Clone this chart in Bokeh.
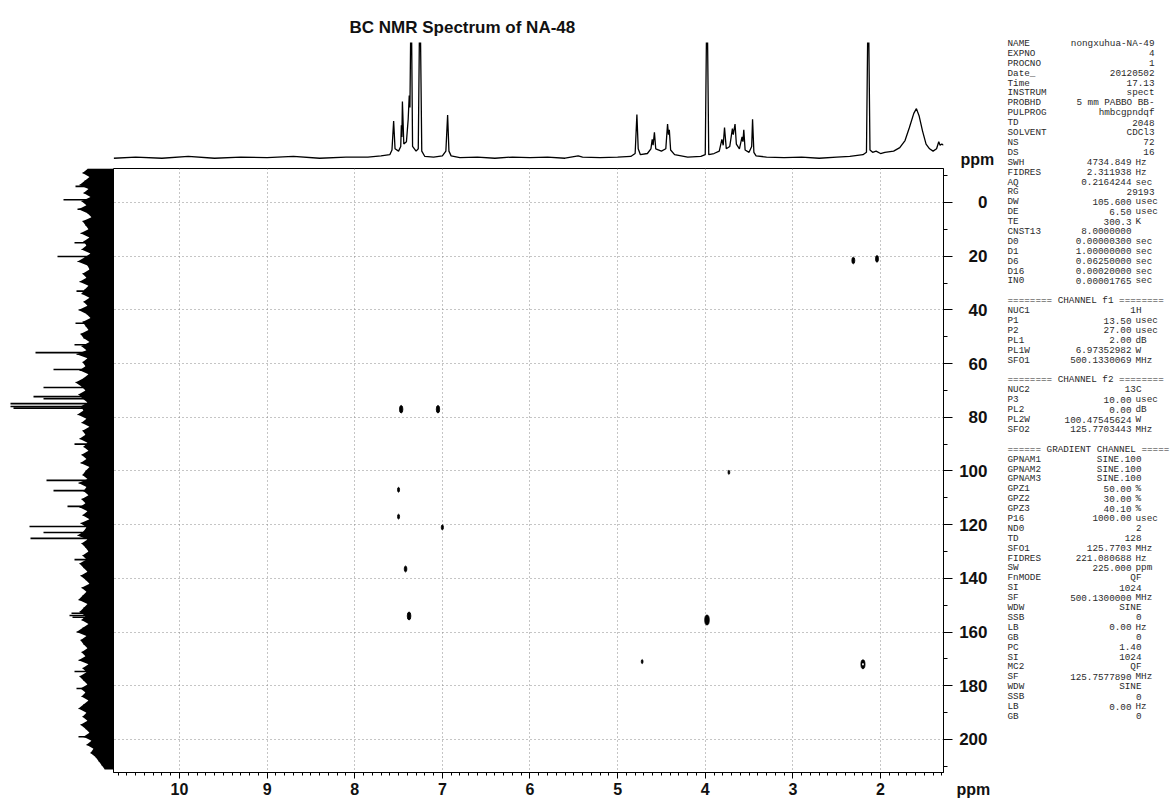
from bokeh.plotting import figure
from bokeh.models import Range1d, SingleIntervalTicker, ColumnDataSource, CustomJSTickFormatter, Title
from bokeh.layouts import row, column
from bokeh.embed import file_html
from bokeh.resources import INLINE
from bokeh.core.properties import value

# ---------------- data ----------------
TITLE = "BC NMR Spectrum of NA-48"
AXIS_UNIT = "ppm"
F2_RANGE = (10.753, 1.281)     # 1H axis (ppm), reversed
F1_RANGE = (212.3, -12.66)     # 13C axis (ppm), 0 at top

# 1H projection (ppm, relative intensity; >1 are clipped peaks)
h1_points = [
    (10.75, 0.02), (10.5, 0.03), (10.2, 0.02), (9.9, 0.035), (9.6, 0.02), (9.3, 0.03),
    (9.0, 0.025), (8.7, 0.035), (8.4, 0.02), (8.1, 0.03), (7.85, 0.03), (7.7, 0.04),
    (7.6, 0.05), (7.575, 0.09), (7.556, 0.335), (7.54, 0.10), (7.5, 0.08), (7.475, 0.12),
    (7.468, 0.30), (7.462, 0.20), (7.456, 0.50), (7.44, 0.14), (7.41, 0.16), (7.39, 0.35),
    (7.378, 0.55), (7.37, 0.45), (7.356, 1.5), (7.34, 0.12), (7.30, 0.08), (7.275, 0.10),
    (7.256, 1.5), (7.235, 0.08), (7.2, 0.035), (7.1, 0.03), (7.0, 0.04), (6.96, 0.08),
    (6.94, 0.385), (6.925, 0.08), (6.9, 0.04), (6.8, 0.025), (6.6, 0.03), (6.4, 0.02),
    (6.2, 0.03), (6.0, 0.025), (5.8, 0.03), (5.6, 0.02), (5.45, 0.04), (5.4, 0.03),
    (5.2, 0.025), (5.0, 0.03), (4.85, 0.035), (4.80, 0.06), (4.78, 0.39), (4.765, 0.10),
    (4.74, 0.05), (4.66, 0.06), (4.62, 0.10), (4.605, 0.18), (4.595, 0.13), (4.58, 0.24),
    (4.565, 0.10), (4.5, 0.08), (4.45, 0.10), (4.43, 0.31), (4.42, 0.22), (4.41, 0.26),
    (4.395, 0.09), (4.35, 0.05), (4.2, 0.03), (4.05, 0.035), (4.0, 0.05), (3.98, 1.5),
    (3.96, 0.05), (3.9, 0.06), (3.84, 0.08), (3.81, 0.18), (3.795, 0.13), (3.78, 0.28),
    (3.76, 0.10), (3.72, 0.12), (3.69, 0.27), (3.68, 0.22), (3.66, 0.31), (3.645, 0.14),
    (3.61, 0.10), (3.58, 0.20), (3.57, 0.16), (3.56, 0.26), (3.545, 0.09), (3.5, 0.07),
    (3.47, 0.12), (3.46, 0.35), (3.445, 0.07), (3.42, 0.04), (3.3, 0.03), (3.1, 0.025),
    (2.9, 0.03), (2.7, 0.02), (2.5, 0.03), (2.35, 0.035), (2.2, 0.05), (2.16, 0.07),
    (2.14, 1.5), (2.12, 0.09), (2.09, 0.07), (2.05, 0.08), (2.0, 0.06), (1.95, 0.07),
    (1.85, 0.08), (1.78, 0.11), (1.72, 0.17), (1.67, 0.28), (1.62, 0.40), (1.59, 0.44),
    (1.56, 0.38), (1.52, 0.25), (1.48, 0.14), (1.44, 0.10), (1.40, 0.08), (1.36, 0.10),
    (1.335, 0.16), (1.32, 0.13), (1.30, 0.14), (1.281, 0.13),
]

# 13C projection: noise envelope (length from box edge) every 1.5 ppm from -12.5 ppm
proj_start = -12.5
proj_step = 1.5
proj_len = [
    26, 31, 24, 29, 34, 25, 30, 23, 32, 27,
    35, 26, 22, 31, 28, 25, 33, 24, 30, 27,
    32, 23, 29, 36, 26, 24, 31, 27, 34, 25,
    29, 32, 24, 30, 26, 35, 27, 23, 31, 28,
    25, 33, 30, 24, 32, 27, 37, 26, 31, 28,
    34, 25, 30, 38, 32, 28, 35, 31, 26, 33,
    30, 36, 27, 32, 24, 31, 28, 34, 26, 30,
    25, 32, 27, 33, 24, 28, 31, 26, 35, 27,
    30, 25, 32, 28, 34, 26, 31, 24, 33, 27,
    30, 36, 26, 32, 28, 25, 31, 27, 34, 30,
    26, 33, 28, 24, 32, 27, 31, 35, 26, 30,
    34, 28, 32, 25, 31, 37, 27, 33, 30, 26,
    32, 28, 35, 25, 31, 27, 34, 30, 26, 33,
    28, 32, 25, 30, 35, 27, 31, 26, 33, 28,
    24, 30, 22, 27, 20, 23, 18, 15, 12, 9,
]
spike_ppm = [-6.0, -1.0, 2.5, 15.0, 20.1, 33.0, 45.0, 53.0, 55.9, 62.2, 68.9, 72.3, 73.1,
             74.9, 76.0, 76.6, 90.0, 103.5, 107.3, 113.2, 120.7, 122.9, 125.1, 133.0,
             153.0, 153.8, 154.5, 174.7, 181.0, 199.0]
spike_len = [38, 50, 36, 39, 56, 37, 38, 39, 78, 60, 70, 80, 70,
             103, 103, 100, 39, 67, 60, 46, 84, 70, 83, 39,
             42, 44, 41, 39, 37, 35]

# HMBC cross peaks (1H ppm, 13C ppm, relative strength, contour drawn as ring?)
cross_f2 = [2.31, 2.04, 7.47, 7.05, 3.73, 7.50, 7.50, 7.00, 7.42, 7.38, 3.98, 4.72, 2.20]
cross_f1 = [21.6, 21.0, 77.0, 77.0, 100.5, 107.0, 117.0, 121.0, 136.5, 154.0, 155.5, 171.0, 172.0]
cross_strength = [1.6, 1.6, 2, 2, 0.5, 0.8, 0.8, 0.9, 1.3, 2.2, 3, 0.5, 2.6]
cross_ring = [False] * 12 + [True]

# acquisition / processing parameters (key, value, unit); None = blank line
param_rows = [
    ("NAME", "nongxuhua-NA-49", ""), ("EXPNO", "4", ""), ("PROCNO", "1", ""),
    ("Date_", "20120502", ""), ("Time", "17.13", ""), ("INSTRUM", "spect", ""),
    ("PROBHD", "5 mm PABBO BB-", ""), ("PULPROG", "hmbcgpndqf", ""), ("TD", "2048", ""),
    ("SOLVENT", "CDCl3", ""), ("NS", "72", ""), ("DS", "16", ""),
    ("SWH", "4734.849", "Hz"), ("FIDRES", "2.311938", "Hz"), ("AQ", "0.2164244", "sec"),
    ("RG", "29193", ""), ("DW", "105.600", "usec"), ("DE", "6.50", "usec"),
    ("TE", "300.3", "K"), ("CNST13", "8.0000000", " "), ("D0", "0.00000300", "sec"),
    ("D1", "1.00000000", "sec"), ("D6", "0.06250000", "sec"), ("D16", "0.00020000", "sec"),
    ("IN0", "0.00001765", "sec"),
    None,
    ("======== CHANNEL f1 ========", None, None),
    ("NUC1", "1H", ""), ("P1", "13.50", "usec"), ("P2", "27.00", "usec"),
    ("PL1", "2.00", "dB"), ("PL1W", "6.97352982", "W"), ("SFO1", "500.1330069", "MHz"),
    None,
    ("======== CHANNEL f2 ========", None, None),
    ("NUC2", "13C", ""), ("P3", "10.00", "usec"), ("PL2", "0.00", "dB"),
    ("PL2W", "100.47545624", "W"), ("SFO2", "125.7703443", "MHz"),
    None,
    ("====== GRADIENT CHANNEL =====", None, None),
    ("GPNAM1", "SINE.100", ""), ("GPNAM2", "SINE.100", ""), ("GPNAM3", "SINE.100", ""),
    ("GPZ1", "50.00", "%"), ("GPZ2", "30.00", "%"), ("GPZ3", "40.10", "%"),
    ("P16", "1000.00", "usec"), ("ND0", "2", ""), ("TD", "128", ""),
    ("SFO1", "125.7703", "MHz"), ("FIDRES", "221.080688", "Hz"), ("SW", "225.000", "ppm"),
    ("FnMODE", "QF", ""), ("SI", "1024", ""), ("SF", "500.1300000", "MHz"),
    ("WDW", "SINE", ""), ("SSB", "0", ""), ("LB", "0.00", "Hz"), ("GB", "0", ""),
    ("PC", "1.40", ""), ("SI", "1024", ""), ("MC2", "QF", ""),
    ("SF", "125.7577890", "MHz"), ("WDW", "SINE", ""), ("SSB", "0", ""),
    ("LB", "0.00", "Hz"), ("GB", "0", ""),
]

# ---------------- styling constants ----------------
SANS = "Liberation Sans"
MONO = "Liberation Mono"
INK = "#111111"
LEFT_W, FRAME_W = 113, 830
TOP_H, BOT_B, RIGHT_B = 168, 33, 12
LAB_W = 45
GRID_COLOR = "#8a8a8a"

x_rng = Range1d(*F2_RANGE)
y_rng = Range1d(*F1_RANGE)

# ---------------- top 1H spectrum ----------------
pt = figure(width=LEFT_W + FRAME_W + RIGHT_B, height=TOP_H, x_range=x_rng,
            y_range=Range1d(-0.05, 1.0), toolbar_location=None, output_backend="svg",
            title=TITLE, x_axis_location=None, y_axis_location=None,
            min_border_left=LEFT_W, min_border_right=RIGHT_B,
            min_border_top=42, min_border_bottom=2)
pt.outline_line_color = None
pt.grid.visible = False
pt.title.text_font = SANS
pt.title.text_font_size = "17px"
pt.title.text_font_style = "bold"
pt.title.text_color = INK
pt.title.align = "left"
pt.title.offset = 236
pt.title.standoff = 12
pt.line([p for p, _ in h1_points], [v for _, v in h1_points], color="black", line_width=1.3)

# ---------------- main 2D plot ----------------
pm = figure(width=FRAME_W + RIGHT_B, height=805 - TOP_H, x_range=x_rng, y_range=y_rng,
            toolbar_location=None, output_backend="svg",
            x_axis_location="below", y_axis_location="right",
            min_border_left=0, min_border_right=RIGHT_B, min_border_top=0,
            min_border_bottom=BOT_B)
pm.outline_line_color = "black"
pm.outline_line_width = 1
xa = pm.xaxis[0]
xa.ticker = SingleIntervalTicker(interval=1, num_minor_ticks=10)
xa.major_label_text_font = SANS
xa.major_label_text_font_size = "16px"
xa.major_label_text_font_style = "bold"
xa.major_label_text_color = INK
xa.major_tick_out, xa.major_tick_in = 6, 0
xa.minor_tick_out, xa.minor_tick_in = 3, 0
xa.major_label_standoff = 4
ya = pm.yaxis[0]
ya.ticker = SingleIntervalTicker(interval=20, num_minor_ticks=2)
ya.major_tick_out, ya.major_tick_in = 9, 0
ya.minor_tick_out, ya.minor_tick_in = 4, 0
ya.formatter = CustomJSTickFormatter(code="return ''")
ya.major_label_standoff = 0
for g in pm.grid:
    g.grid_line_color = GRID_COLOR
    g.grid_line_dash = "1 3"
    g.grid_line_width = 1

cw = [1.2 + 1.1 * s for s in cross_strength]
ch = [3.0 + 2.3 * s for s in cross_strength]
pm.ellipse(x=cross_f2, y=cross_f1, width=cw, height=ch, width_units="screen",
           height_units="screen", fill_color="black", line_color="black", line_width=0.8)
ring_x = [x for x, r in zip(cross_f2, cross_ring) if r]
ring_y = [y for y, r in zip(cross_f1, cross_ring) if r]
pm.ellipse(x=ring_x, y=ring_y, width=1.6, height=2.6, width_units="screen",
           height_units="screen", fill_color="white", line_color=None)

# ---------------- y tick labels + unit labels (right strip, full height) ----------------
pr = figure(width=LAB_W, height=805, x_range=Range1d(0, 1), y_range=y_rng,
            toolbar_location=None, output_backend="svg",
            x_axis_location=None, y_axis_location="left",
            min_border_left=33, min_border_right=0, min_border_top=TOP_H,
            min_border_bottom=BOT_B)
pr.outline_line_color = None
pr.grid.visible = False
ay = pr.yaxis[0]
ay.ticker = SingleIntervalTicker(interval=20, num_minor_ticks=0)
ay.axis_line_color = None
ay.major_tick_line_color = None
ay.minor_tick_line_color = None
ay.major_tick_out = ay.major_tick_in = 0
ay.minor_tick_out = ay.minor_tick_in = 0
ay.major_label_standoff = 1
ay.major_label_text_font = SANS
ay.major_label_text_font_size = "17px"
ay.major_label_text_font_style = "bold"
ay.major_label_text_color = INK
pr.add_layout(Title(text=AXIS_UNIT, align="left", offset=-28, standoff=2,
                    text_font=SANS, text_font_size="16px", text_font_style="bold",
                    text_color=INK), "above")
pr.add_layout(Title(text=AXIS_UNIT, align="left", offset=-32, standoff=13,
                    text_font=SANS, text_font_size="16px", text_font_style="bold",
                    text_color=INK), "below")

# ---------------- left 13C projection ----------------
pl = figure(width=LEFT_W, height=805 - TOP_H, x_range=Range1d(LEFT_W, 0), y_range=y_rng,
            toolbar_location=None, output_backend="svg",
            x_axis_location=None, y_axis_location=None,
            min_border_left=0, min_border_right=0, min_border_top=0, min_border_bottom=BOT_B)
pl.outline_line_color = None
pl.grid.visible = False
proj_ppm = [proj_start + i * proj_step for i in range(len(proj_len))]
pl.harea(x1=[0] * len(proj_len), x2=proj_len, y=proj_ppm, fill_color="black")
pl.segment(x0=[0] * len(proj_len), y0=proj_ppm, x1=proj_len, y1=proj_ppm,
           color="black", line_width=1)
pl.segment(x0=[0] * len(spike_ppm), y0=spike_ppm, x1=spike_len, y1=spike_ppm,
           color="black", line_width=1.6)

# ---------------- parameter listing ----------------
TXT_W = 1173 - (LEFT_W + FRAME_W + RIGHT_B) - LAB_W
ptx = figure(width=TXT_W, height=805, x_range=Range1d(0, TXT_W), y_range=Range1d(77.0, -4.34),
             toolbar_location=None, output_backend="svg",
             x_axis_location=None, y_axis_location=None, min_border=0)
ptx.outline_line_color = None
ptx.grid.visible = False
keys = dict(x=[], y=[], t=[])
vals_u = dict(x=[], y=[], t=[])
vals_n = dict(x=[], y=[], t=[])
units = dict(x=[], y=[], t=[])
for i, r in enumerate(param_rows):
    if r is None:
        continue
    k, v, u = r
    keys["x"].append(7); keys["y"].append(i); keys["t"].append(k)
    if v is None:
        continue
    if u:
        vals_u["x"].append(131); vals_u["y"].append(i); vals_u["t"].append(v)
        if u.strip():
            units["x"].append(135); units["y"].append(i); units["t"].append(u)
    else:
        vals_n["x"].append(154 if i < 25 else 141); vals_n["y"].append(i); vals_n["t"].append(v)

common = dict(text_font=value(MONO), text_font_size="9.3px", text_color="#2a2a2a",
              text_baseline="middle")
ptx.text(x="x", y="y", text="t", source=ColumnDataSource(keys), text_align="left", **common)
ptx.text(x="x", y="y", text="t", source=ColumnDataSource(vals_u), text_align="right", **common)
ptx.text(x="x", y="y", text="t", source=ColumnDataSource(vals_n), text_align="right", **common)
ptx.text(x="x", y="y", text="t", source=ColumnDataSource(units), text_align="left", **common)

layout = row(column(pt, row(pl, pm)), column(pr), column(ptx))
open("out.html", "w").write(file_html(layout, INLINE))
